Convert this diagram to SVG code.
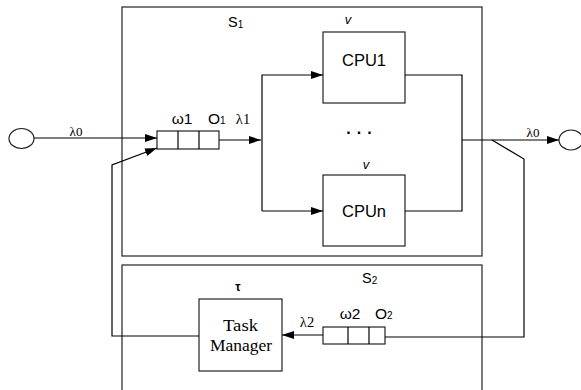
<svg xmlns="http://www.w3.org/2000/svg" width="581" height="390" viewBox="0 0 581 390">
<style>
.ln{fill:none;stroke:#000;stroke-width:1.2}
.bx{fill:#fff;stroke:#222;stroke-width:1.2}
.grp{fill:none;stroke:#222;stroke-width:1.2}
.s{font-family:"Liberation Sans",Arial,sans-serif;fill:#000}
.r{font-family:"Liberation Serif","Times New Roman",serif;fill:#000}
</style>
<defs>
<marker id="ah" viewBox="0 0 12 8" refX="12" refY="4" markerWidth="12" markerHeight="8" markerUnits="userSpaceOnUse" orient="auto">
<path d="M0,0 L12,4 L0,8 z" fill="#000"/>
</marker>
</defs>
<g id="S1">
<rect class="grp" x="122" y="7" width="360" height="249"/>
<text class="s" x="228" y="27" font-size="14.5">S<tspan font-size="10" dy="1">1</tspan></text>
</g>
<g id="S2">
<rect class="grp" x="122" y="265" width="360" height="140"/>
<text class="s" x="362" y="283" font-size="14.5">S<tspan font-size="10" dy="1">2</tspan></text>
</g>
<g id="src">
<ellipse class="bx" cx="21.5" cy="138.5" rx="12.5" ry="10"/>
</g>
<g id="sink">
<ellipse class="bx" cx="571" cy="140" rx="12" ry="10"/>
</g>
<g id="queue1">
<rect class="bx" x="157" y="131" width="62" height="18"/>
<line class="ln" x1="178" y1="131" x2="178" y2="149"/>
<line class="ln" x1="199" y1="131" x2="199" y2="149"/>
<text class="s" x="182" y="124" font-size="15.5" text-anchor="middle">ω1</text>
<text class="s" x="208" y="124" font-size="15.5">O<tspan font-size="10">1</tspan></text>
</g>
<g id="cpu1">
<rect class="bx" x="323" y="32" width="82" height="71"/>
<text class="s" x="364" y="66" font-size="16.5" text-anchor="middle">CPU1</text>
<text class="s" x="348" y="24" font-size="13" font-style="italic" text-anchor="middle">v</text>
</g>
<g id="cpun">
<rect class="bx" x="323" y="175" width="82" height="71"/>
<text class="s" x="364" y="217" font-size="16.5" text-anchor="middle">CPUn</text>
<text class="s" x="366" y="169" font-size="13" font-style="italic" text-anchor="middle">v</text>
</g>
<g id="dots">
<text class="s" x="362" y="134" font-size="16" font-weight="bold" letter-spacing="6" text-anchor="middle">...</text>
</g>
<g id="queue2">
<rect class="bx" x="323" y="327" width="62" height="17"/>
<line class="ln" x1="348" y1="327" x2="348" y2="344"/>
<line class="ln" x1="369" y1="327" x2="369" y2="344"/>
<text class="s" x="350" y="319" font-size="15.5" text-anchor="middle">ω2</text>
<text class="s" x="375" y="319" font-size="15.5">O<tspan font-size="10">2</tspan></text>
</g>
<g id="taskmanager">
<rect class="bx" x="199" y="299" width="83" height="72"/>
<text class="r" x="223" y="331" font-size="16" textLength="35" lengthAdjust="spacingAndGlyphs">Task</text>
<text class="r" x="210" y="351" font-size="16" textLength="62" lengthAdjust="spacingAndGlyphs">Manager</text>
<text class="s" x="238" y="291" font-size="12" font-weight="bold" text-anchor="middle">τ</text>
</g>
<g id="connectors">
<line class="ln" x1="34" y1="138" x2="157" y2="138" marker-end="url(#ah)"/>
<text class="r" x="76" y="136" font-size="13" text-anchor="middle">λ0</text>
<line class="ln" x1="219" y1="140" x2="261" y2="140" marker-end="url(#ah)"/>
<text class="r" x="243" y="124" font-size="14.5" text-anchor="middle">λ1</text>
<polyline class="ln" points="262,211 262,75 323,75" marker-end="url(#ah)"/>
<line class="ln" x1="262" y1="211" x2="323" y2="211" marker-end="url(#ah)"/>
<polyline class="ln" points="405,75 462,75 462,211 405,211"/>
<line class="ln" x1="462" y1="140" x2="559" y2="140" marker-end="url(#ah)"/>
<text class="r" x="533" y="137" font-size="13" text-anchor="middle">λ0</text>
<polyline class="ln" points="492,140 524,159 524,337 385,337"/>
<line class="ln" x1="323" y1="335" x2="282" y2="335" marker-end="url(#ah)"/>
<text class="r" x="307" y="327" font-size="14.5" text-anchor="middle">λ2</text>
<polyline class="ln" points="199,336 112,336 112,165 157,148" marker-end="url(#ah)"/>
</g>
</svg>
